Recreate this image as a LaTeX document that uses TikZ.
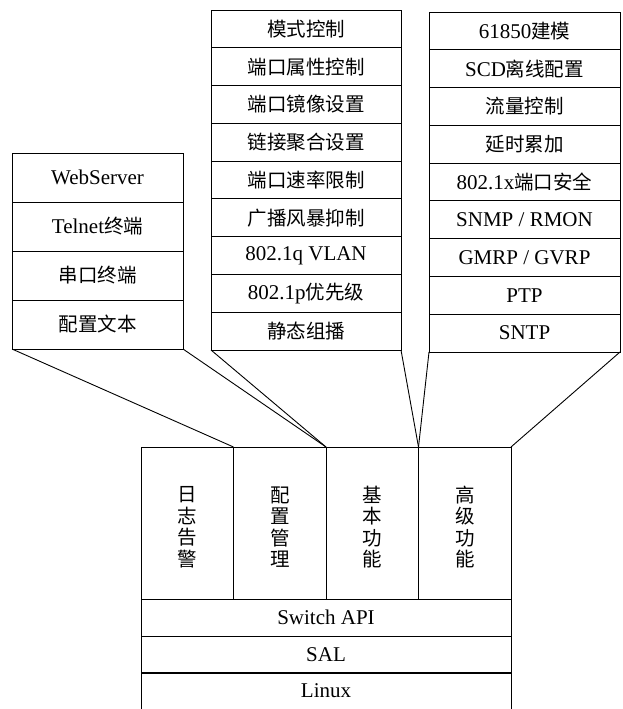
\documentclass[tikz,border=0pt]{standalone}
\usepackage{fontspec}
\setmainfont{Liberation Serif}
\newfontfamily\cjk{Noto Sans CJK SC}
\newcommand{\zh}[1]{{\cjk\fontsize{19.5}{22}\selectfont #1}}
\begin{document}
\begin{tikzpicture}[x=1pt,y=-1pt,
  cell/.style={draw, line width=0.9pt, inner sep=0pt, outer sep=0pt, font=\fontsize{21}{24}\selectfont},
  lcell/.style={cell, minimum width=171pt, minimum height=49pt},
  mcell/.style={cell, minimum width=190pt, minimum height=37.78pt},
  rcell/.style={cell, minimum width=191pt, minimum height=37.78pt},
  col/.style={cell, minimum width=92.5pt, minimum height=152pt},
  vtext/.style={inner sep=0pt, align=center, font=\cjk\fontsize{19.5}{21.5}\selectfont},
  layer/.style={cell, minimum width=370pt, minimum height=37pt},
  link/.style={line width=0.9pt}]
\useasboundingbox (0,0) rectangle (623,709);
% left group
\node[lcell] (l1) at (97.5,177.5) {WebServer};
\node[lcell] (l2) at (97.5,226.5) {Telnet\zh{终端}};
\node[lcell] (l3) at (97.5,275.5) {\zh{串口终端}};
\node[lcell] (l4) at (97.5,324.5) {\zh{配置文本}};
% middle group
\node[mcell] (m1) at (306,28.89) {\zh{模式控制}};
\node[mcell] (m2) at (306,66.67) {\zh{端口属性控制}};
\node[mcell] (m3) at (306,104.44) {\zh{端口镜像设置}};
\node[mcell] (m4) at (306,142.22) {\zh{链接聚合设置}};
\node[mcell] (m5) at (306,180) {\zh{端口速率限制}};
\node[mcell] (m6) at (306,217.78) {\zh{广播风暴抑制}};
\node[mcell] (m7) at (306,255.56) {802.1q VLAN};
\node[mcell] (m8) at (306,293.33) {802.1p\zh{优先级}};
\node[mcell] (m9) at (306,331.11) {\zh{静态组播}};
% right group
\node[rcell] (r1) at (524.5,30.89) {61850\zh{建模}};
\node[rcell] (r2) at (524.5,68.67) {SCD\zh{离线配置}};
\node[rcell] (r3) at (524.5,106.44) {\zh{流量控制}};
\node[rcell] (r4) at (524.5,144.22) {\zh{延时累加}};
\node[rcell] (r5) at (524.5,182) {802.1x\zh{端口安全}};
\node[rcell] (r6) at (524.5,219.78) {SNMP / RMON};
\node[rcell] (r7) at (524.5,257.56) {GMRP / GVRP};
\node[rcell] (r8) at (524.5,295.33) {PTP};
\node[rcell] (r9) at (524.5,333.11) {SNTP};
% bottom columns
\node[col] (c1) at (187.25,523) {};
\node[col] (c2) at (279.75,523) {};
\node[col] (c3) at (372.25,523) {};
\node[col] (c4) at (464.75,523) {};
\node[vtext] (t1) at ([yshift=-4pt]c1.center) {日\\志\\告\\警};
\node[vtext] (t2) at ([yshift=-4pt]c2.center) {配\\置\\管\\理};
\node[vtext] (t3) at ([yshift=-4pt]c3.center) {基\\本\\功\\能};
\node[vtext] (t4) at ([yshift=-4pt]c4.center) {高\\级\\功\\能};
% layers
\node[layer] (api) at (326,617.5) {Switch API};
\node[layer] (sal) at (326,654.5) {SAL};
\node[layer] (linux) at (326,691) {Linux};
% connectors
\draw[link] (l4.south west) -- (c2.north west);
\draw[link] (l4.south east) -- (c2.north east);
\draw[link] (m9.south west) -- (c3.north west);
\draw[link] (m9.south east) -- (c3.north east);
\draw[link] (r9.south west) -- (c4.north west);
\draw[link] (r9.south east) -- (c4.north east);
\end{tikzpicture}
\end{document}
